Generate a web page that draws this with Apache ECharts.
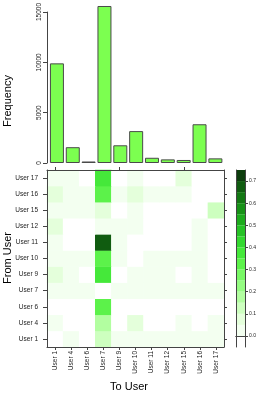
<!DOCTYPE html>
<html>
<head>
<meta charset="utf-8">
<script src="https://cdn.jsdelivr.net/npm/echarts@6/dist/echarts.min.js"></script>
<style>
html,body{margin:0;padding:0;background:#fff;}
#chart{width:266px;height:396px;}
</style>
</head>
<body>
<div id="chart"></div>
<script>
// ---- data ----
const toUsers = ['User 1','User 4','User 6','User 7','User 9','User 10','User 11','User 12','User 15','User 16','User 17'];
const fromUsers = ['User 1','User 4','User 6','User 7','User 9','User 10','User 11','User 12','User 15','User 16','User 17'];
const frequency = [9900, 1570, 150, 15600, 1760, 3170, 520, 360, 300, 3850, 460];
const freqTicks = [0, 5000, 10000, 15000];
// transition proportions, one row per "from" user (bottom to top), columns = toUsers
const rowUser1  = [-0.02, 0.03, -0.02, 0.13, 0.03, 0.03, 0.03, 0.03, 0.03, 0.03, 0.03];
const rowUser4  = [0.03, -0.02, -0.02, 0.17, -0.02, 0.06, -0.02, -0.02, 0.03, -0.02, 0.03];
const rowUser6  = [-0.02, -0.02, -0.02, 0.33, -0.02, -0.02, -0.02, -0.02, -0.02, -0.02, -0.02];
const rowUser7  = [0.03, 0.03, 0.03, -0.02, 0.03, 0.03, 0.03, 0.03, 0.03, 0.03, 0.03];
const rowUser9  = [0.06, 0.03, -0.02, 0.37, -0.02, 0.03, 0.03, 0.03, -0.02, 0.03, -0.02];
const rowUser10 = [0.03, 0.03, 0.03, 0.33, 0.03, -0.02, 0.03, 0.03, 0.03, 0.03, -0.02];
const rowUser11 = [0.02, -0.02, -0.02, 0.68, 0.03, -0.02, -0.02, -0.02, -0.02, 0.03, -0.02];
const rowUser12 = [0.06, -0.02, -0.02, 0.03, 0.03, 0.03, -0.02, -0.02, -0.02, 0.03, -0.02];
const rowUser15 = [0.03, 0.03, 0.03, 0.07, -0.02, 0.03, -0.02, -0.02, -0.02, -0.02, 0.13];
const rowUser16 = [0.06, 0.03, 0.03, 0.33, 0.03, 0.06, 0.04, 0.04, 0.04, -0.02, -0.02];
const rowUser17 = [0.03, 0.03, -0.02, 0.37, -0.02, 0.03, -0.02, -0.02, 0.07, -0.02, -0.02];
const matrixRows = [rowUser1, rowUser4, rowUser6, rowUser7, rowUser9, rowUser10, rowUser11, rowUser12, rowUser15, rowUser16, rowUser17];
// colour key
const levelBreaks = [-0.05, 0, 0.05, 0.1, 0.15, 0.2, 0.25, 0.3, 0.35, 0.4, 0.45, 0.5, 0.55, 0.6, 0.65, 0.7, 0.75];
const levelColors = ['#FFFFFF','#F3FFF0','#E4FFDB','#CDFFBF','#B2FEA0','#95FC82','#78F865','#5CF24A','#45E83A','#33D82F','#26C226','#1DAB1D','#179217','#137813','#105C10','#0D3D0D'];
const keyTicks = [0, 0.1, 0.2, 0.3, 0.4, 0.5, 0.6, 0.7];

// ---- build ----
const FONT = 'Liberation Sans, Arial, Helvetica, sans-serif';
const AX = '#444';
const heatData = [];
matrixRows.forEach((row, i) => row.forEach((v, j) => heatData.push([j, i, v])));
const pieces = levelColors.map((c, i) => ({gte: levelBreaks[i], lt: levelBreaks[i + 1], color: c}));

const keySeries = levelColors.map((c, i) => ({
  type: 'bar', stack: 'key', xAxisIndex: 3, yAxisIndex: 3,
  barWidth: '100%', silent: true,
  data: [i === 0 ? levelBreaks[0] : +(levelBreaks[i + 1] - levelBreaks[i]).toFixed(2)],
  itemStyle: {color: c}
}));

const lineOnly = {show: true, lineStyle: {color: AX, width: 1}};

const option = {
  animation: false,
  textStyle: {fontFamily: FONT},
  grid: [
    {left: 49, top: 10, width: 174.3, height: 153},
    {left: 47, top: 170, width: 177, height: 177},
    {left: 236, top: 170, width: 9, height: 177}
  ],
  xAxis: [
    {gridIndex: 0, type: 'category', data: toUsers, show: false},
    {gridIndex: 1, type: 'category', data: toUsers, position: 'bottom', z: 5,
      axisLine: lineOnly, axisTick: {show: true, alignWithLabel: true, length: 3, lineStyle: {color: AX}},
      axisLabel: {rotate: 90, fontSize: 6.5, margin: 4, color: '#222', fontFamily: FONT}},
    {gridIndex: 1, type: 'category', data: toUsers, position: 'top', z: 5,
      axisLine: lineOnly, axisTick: {show: true, alignWithLabel: true, length: 3, lineStyle: {color: AX}},
      axisLabel: {show: false}},
    {gridIndex: 2, type: 'category', data: ['key'], position: 'bottom', z: 5,
      axisLine: lineOnly, axisTick: {show: false}, axisLabel: {show: false}},
    {gridIndex: 2, type: 'category', data: ['key'], position: 'top', z: 5,
      axisLine: lineOnly, axisTick: {show: false}, axisLabel: {show: false}}
  ],
  yAxis: [
    {gridIndex: 0, type: 'value', min: freqTicks[0], max: freqTicks[freqTicks.length - 1], interval: 5000, offset: 2,
      axisLine: lineOnly, axisTick: {show: true, length: 4, lineStyle: {color: AX}},
      axisLabel: {rotate: 90, fontSize: 6.5, margin: 4, color: '#222', fontFamily: FONT,
        formatter: v => String(v)},
      splitLine: {show: false}},
    {gridIndex: 1, type: 'category', data: fromUsers, position: 'left', z: 5,
      axisLine: lineOnly, axisTick: {show: true, alignWithLabel: true, length: 4, lineStyle: {color: AX}},
      axisLabel: {fontSize: 6.5, margin: 9, color: '#222', fontFamily: FONT}},
    {gridIndex: 1, type: 'category', data: fromUsers, position: 'right', z: 5,
      axisLine: lineOnly, axisTick: {show: true, alignWithLabel: true, length: 3, lineStyle: {color: AX}},
      axisLabel: {show: false}},
    {gridIndex: 2, type: 'value', min: levelBreaks[0], max: levelBreaks[levelBreaks.length - 1], position: 'right', z: 5,
      axisLine: lineOnly,
      axisTick: {show: true, length: 3, customValues: keyTicks, lineStyle: {color: AX}},
      axisLabel: {show: true, customValues: keyTicks, fontSize: 5, margin: 4, color: '#222', fontFamily: FONT,
        formatter: v => Number(v).toFixed(1)},
      splitLine: {show: false}},
    {gridIndex: 2, type: 'value', min: levelBreaks[0], max: levelBreaks[levelBreaks.length - 1], position: 'left', z: 5,
      axisLine: lineOnly, axisTick: {show: false}, axisLabel: {show: false}, splitLine: {show: false}}
  ],
  visualMap: {type: 'piecewise', show: false, seriesIndex: 1, dimension: 2, pieces: pieces},
  series: [
    {type: 'bar', xAxisIndex: 0, yAxisIndex: 0, data: frequency, barWidth: 14, clip: false,
      itemStyle: {color: '#7CFF50', borderColor: '#4a4a4a', borderWidth: 1}},
    {type: 'heatmap', xAxisIndex: 1, yAxisIndex: 1, data: heatData, silent: true}
  ].concat(keySeries),
  graphic: [
    {type: 'text', x: 8, y: 101, rotation: Math.PI / 2,
      style: {text: 'Frequency', font: '11px ' + FONT, fill: '#000', align: 'center', verticalAlign: 'middle'}},
    {type: 'text', x: 8, y: 258, rotation: Math.PI / 2,
      style: {text: 'From User', font: '11px ' + FONT, fill: '#000', align: 'center', verticalAlign: 'middle'}},
    {type: 'text', x: 129, y: 387,
      style: {text: 'To User', font: '11px ' + FONT, fill: '#000', align: 'center', verticalAlign: 'middle'}}
  ]
};

const chart = echarts.init(document.getElementById('chart'), null, {renderer: 'canvas'});
chart.setOption(option);
</script>
</body>
</html>
